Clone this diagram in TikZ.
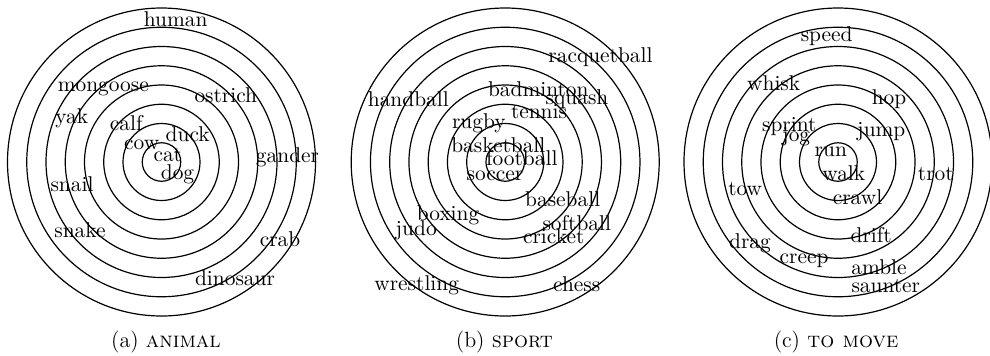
\documentclass[tikz,border=0pt]{standalone}
\begin{document}
\begin{tikzpicture}[x=0.5pt,y=-0.5pt,
  ring/.style={line width=0.6pt},
  lbl/.style={inner sep=0pt,anchor=base,font=\fontsize{10.7pt}{12pt}\selectfont},
  captxt/.style={inner sep=0pt,anchor=base,font=\fontsize{11pt}{13pt}\selectfont}]
\useasboundingbox (0,0) rectangle (990,355);
\foreach \cx in {161.5,505.2,838}{
  \foreach \k in {1,...,8}{\draw[ring] (\cx,162) circle[radius=9.625pt*\k];}}
% (a) animal
\node[lbl] (human) at (175.7,26) {human};
\node[lbl] (mongoose) at (103.3,91) {mongoose};
\node[lbl] (ostrich) at (225.8,102.3) {ostrich};
\node[lbl] (yak) at (71.7,123.3) {yak};
\node[lbl] (calf) at (126.3,130) {calf};
\node[lbl] (duck) at (187.7,141.7) {duck};
\node[lbl] (cow) at (141.7,149.3) {cow};
\node[lbl] (cat) at (167.8,161.7) {cat};
\node[lbl] (gander) at (287.5,162.7) {gander};
\node[lbl] (dog) at (177.5,179.3) {dog};
\node[lbl] (snail) at (72,191.7) {snail};
\node[lbl] (snake) at (80,237.7) {snake};
\node[lbl] (crab) at (280,246) {crab};
\node[lbl] (dinosaur) at (235,285) {dinosaur};
% (b) sport
\node[lbl] (racquetball) at (600.5,62.7) {racquetball};
\node[lbl] (badminton) at (538.3,96) {badminton};
\node[lbl] (handball) at (408.3,106.7) {handball};
\node[lbl] (squash) at (577,104) {squash};
\node[lbl] (tennis) at (539,118.3) {tennis};
\node[lbl] (rugby) at (478.8,128.3) {rugby};
\node[lbl] (basketball) at (498.3,152.7) {basketball};
\node[lbl] (football) at (521.8,165) {football};
\node[lbl] (soccer) at (495,180) {soccer};
\node[lbl] (baseball) at (562.7,206.7) {baseball};
\node[lbl] (boxing) at (448,220) {boxing};
\node[lbl] (softball) at (576.8,230) {softball};
\node[lbl] (judo) at (416.2,235) {judo};
\node[lbl] (cricket) at (553.7,243.3) {cricket};
\node[lbl] (wrestling) at (416.7,290) {wrestling};
\node[lbl] (chess) at (576.7,291.7) {chess};
% (c) to move
\node[lbl] (speed) at (826.7,41.7) {speed};
\node[lbl] (whisk) at (773.7,90) {whisk};
\node[lbl] (hop) at (889,104) {hop};
\node[lbl] (sprint) at (789.3,131.7) {sprint};
\node[lbl] (jump) at (881.3,136.7) {jump};
\node[lbl] (jog) at (796.2,141.7) {jog};
\node[lbl] (run) at (830.8,156.7) {run};
\node[lbl] (walk) at (843.8,180) {walk};
\node[lbl] (trot) at (935.8,180) {trot};
\node[lbl] (tow) at (745.2,195) {tow};
\node[lbl] (crawl) at (857.5,204) {crawl};
\node[lbl] (drift) at (871.2,242.7) {drift};
\node[lbl] (drag) at (750,248.3) {drag};
\node[lbl] (creep) at (804,263.3) {creep};
\node[lbl] (amble) at (879,274) {amble};
\node[lbl] (saunter) at (885.8,292.7) {saunter};
% captions
\node[captxt] (capa) at (166,347) {(a)~\textsc{animal}};
\node[captxt] (capb) at (504.4,347) {(b)~\textsc{sport}};
\node[captxt] (capc) at (836,347) {(c)~\textsc{to move}};
\end{tikzpicture}
\end{document}
